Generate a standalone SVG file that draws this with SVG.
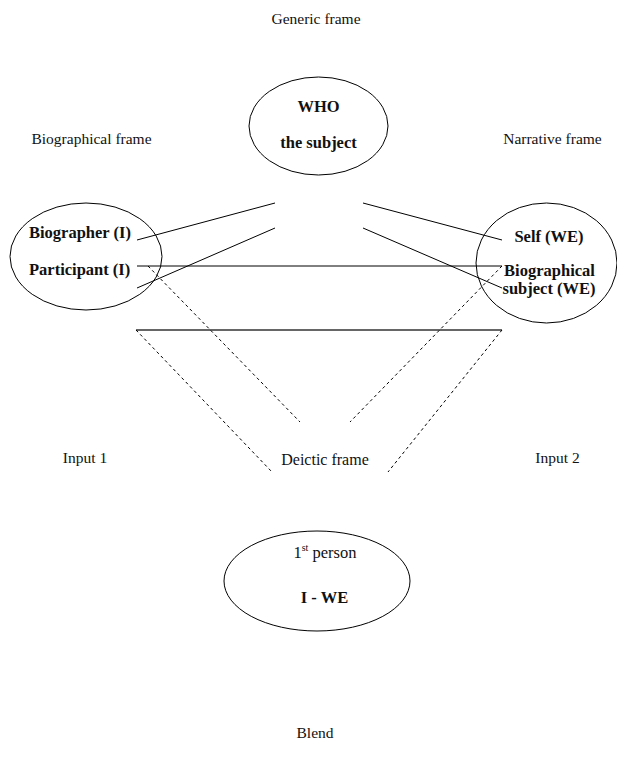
<svg xmlns="http://www.w3.org/2000/svg" width="617" height="767" viewBox="0 0 617 767">
<style>
.lbl{font-family:"Liberation Serif","Times New Roman",serif;font-size:15.5px;fill:#111}
.b{font-family:"Liberation Serif","Times New Roman",serif;font-size:16.5px;font-weight:bold;fill:#111}
.r{font-family:"Liberation Serif","Times New Roman",serif;font-size:16.5px;fill:#111}
.node{fill:none;stroke:#000;stroke-width:1}
.ln{stroke:#000;stroke-width:1;fill:none}
.dash{stroke:#000;stroke-width:1;stroke-dasharray:3,3;fill:none}
</style>
<rect width="617" height="767" fill="#fff"/>
<g id="labels">
<text class="lbl" x="316" y="24" text-anchor="middle">Generic frame</text>
<text class="lbl" x="91.5" y="144" text-anchor="middle">Biographical frame</text>
<text class="lbl" x="552.5" y="144" text-anchor="middle">Narrative frame</text>
<text class="lbl" x="85" y="463" text-anchor="middle">Input 1</text>
<text class="lbl" x="557.5" y="463" text-anchor="middle">Input 2</text>
<text class="lbl" x="325" y="465" text-anchor="middle" style="font-size:16px">Deictic frame</text>
<text class="lbl" x="315" y="738" text-anchor="middle">Blend</text>
</g>
<g id="connectors">
<line class="ln" x1="137" y1="240" x2="275" y2="203"/>
<line class="ln" x1="137" y1="288" x2="275" y2="228"/>
<line class="ln" x1="363" y1="203" x2="502" y2="240"/>
<line class="ln" x1="363" y1="228" x2="502" y2="288"/>
<line class="ln" x1="137" y1="266" x2="502" y2="266"/>
<line x1="136" y1="330" x2="502" y2="330" stroke="#333" stroke-width="1.4"/>
<line class="dash" x1="148" y1="266" x2="300" y2="422"/>
<line class="dash" x1="502" y1="266" x2="350" y2="422"/>
<line class="dash" x1="136" y1="330" x2="272" y2="472"/>
<line class="dash" x1="502" y1="330" x2="388" y2="472" stroke-width="1.5"/>
</g>
<g id="node-generic">
<ellipse class="node" cx="318.5" cy="126" rx="69.5" ry="49"/>
<text class="b" x="318.5" y="112" text-anchor="middle">WHO</text>
<text class="b" x="318.5" y="148" text-anchor="middle">the subject</text>
</g>
<g id="node-input1">
<ellipse class="node" cx="86" cy="256.5" rx="76" ry="53.5"/>
<text class="b" x="29" y="238">Biographer (I)</text>
<text class="b" x="29" y="275">Participant (I)</text>
</g>
<g id="node-input2">
<ellipse class="node" cx="546.5" cy="263" rx="70.5" ry="60"/>
<text class="b" x="549" y="242" text-anchor="middle">Self (WE)</text>
<text class="b" x="549.5" y="276" text-anchor="middle">Biographical</text>
<text class="b" x="549" y="294" text-anchor="middle">subject (WE)</text>
</g>
<g id="node-blend">
<ellipse class="node" cx="317" cy="581" rx="93" ry="50"/>
<text class="r" x="325" y="558" text-anchor="middle">1<tspan font-size="10" dy="-7">st</tspan><tspan dy="7"> person</tspan></text>
<text class="b" x="324.5" y="603" text-anchor="middle">I - WE</text>
</g>
</svg>
